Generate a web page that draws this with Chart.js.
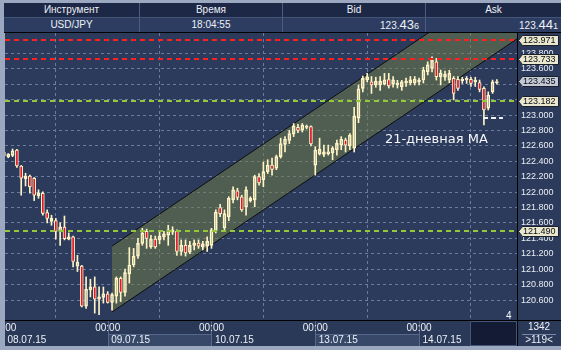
<!DOCTYPE html>
<html>
<head>
<meta charset="utf-8">
<script src="https://cdn.jsdelivr.net/npm/chart.js@4.4.1/dist/chart.umd.min.js"></script>
<style>
html, body { margin: 0; padding: 0; width: 561px; height: 350px; overflow: hidden; background: #9ca8c0; font-family: "Liberation Sans", Arial, sans-serif; }
#hdr { position: absolute; left: 4px; top: 3px; width: 557px; height: 29px; }
.row { position: absolute; left: 0; width: 557px; height: 14px; display: flex; }
#r1 { top: 0; background: #1c2845; }
#r2 { top: 15px; height: 14px; background: #2d3d61; }
#sep { position: absolute; left: 0; top: 14px; width: 557px; height: 1px; background: #44557a; }
.c { box-sizing: border-box; color: #eef1f7; font-size: 10px; line-height: 14px; border-right: 1px solid #4d5d82; text-align: center; white-space: nowrap; }
.r { text-align: right; }
.big { font-size: 13px; }
.sm { font-size: 9px; }
#topline { position: absolute; left: 4px; top: 32px; width: 557px; height: 1px; background: #000; }
#wrap { position: absolute; left: 5px; top: 33px; width: 556px; height: 313px; background: #2c3a5b; }
</style>
</head>
<body>
<div id="hdr">
  <div class="row" id="r1">
    <div class="c" style="width:136px">Инструмент</div>
    <div class="c" style="width:143px">Время</div>
    <div class="c" style="width:143px">Bid</div>
    <div class="c" style="width:135px;border-right:none">Ask</div>
  </div>
  <div id="sep"></div>
  <div class="row" id="r2">
    <div class="c" style="width:136px">USD/JPY</div>
    <div class="c" style="width:143px">18:04:55</div>
    <div class="c r" style="width:143px;padding-right:6px">123.<span class="big">43</span><span class="sm">6</span></div>
    <div class="c r" style="width:135px;padding-right:3px;border-right:none">123.<span class="big">44</span><span class="sm">1</span></div>
  </div>
</div>
<div id="topline"></div>
<div id="wrap"><canvas id="c" width="556" height="313"></canvas></div>
<script>
// hourly USD/JPY candles, 08.07.15 00:00 .. 14.07.15 18:00
const opens = [
  122.470,122.455,122.477,122.546,122.339,122.174,122.209,122.180,121.953,121.985,
  121.733,121.620,121.630,121.490,121.545,121.390,121.420,121.040,121.040,120.520,
  120.730,120.770,120.610,120.635,120.680,120.570,120.650,120.880,120.700,120.940,
  121.055,121.170,121.336,121.490,121.290,121.390,121.380,121.420,121.440,121.480,
  121.490,121.230,121.310,121.220,121.310,121.340,121.290,121.300,121.310,121.495,
  121.800,121.535,121.680,121.900,122.015,121.940,121.810,121.890,121.900,122.200,
  122.160,122.265,122.350,122.310,122.460,122.620,122.670,122.755,122.840,122.805,
  122.840,122.850,122.350,122.494,122.490,122.500,122.510,122.546,122.610,122.676,
  122.600,122.570,122.960,123.345,123.454,123.430,123.390,123.390,123.400,123.460,
  123.400,123.390,123.367,123.415,123.415,123.415,123.428,123.454,123.560,123.605,
  123.690,123.497,123.490,123.454,123.476,123.463,123.445,123.454,123.463,123.428,
  123.420,123.346,123.090,123.300,123.420
];
const highs = [
  122.560,122.500,122.560,122.555,122.345,122.245,122.220,122.190,122.030,122.005,
  121.770,121.700,121.660,121.600,121.690,121.470,121.430,121.180,121.050,120.900,
  120.870,120.900,120.770,120.770,120.710,120.690,120.900,120.900,121.000,121.280,
  121.270,121.400,121.530,121.520,121.440,121.430,121.490,121.490,121.570,121.550,
  121.510,121.380,121.380,121.360,121.380,121.380,121.360,121.420,121.530,121.770,
  121.840,121.770,121.940,122.070,122.050,121.960,122.070,121.940,122.220,122.240,
  122.390,122.420,122.440,122.480,122.700,122.720,122.800,122.890,122.880,122.890,
  122.870,122.860,122.590,122.700,122.610,122.610,122.590,122.675,122.720,122.700,
  122.760,123.100,123.390,123.505,123.540,123.500,123.490,123.500,123.540,123.540,
  123.500,123.450,123.450,123.480,123.500,123.500,123.480,123.620,123.690,123.756,
  123.735,123.584,123.570,123.580,123.500,123.500,123.490,123.500,123.490,123.490,
  123.454,123.367,123.300,123.454,123.460
];
const lows = [
  122.450,122.445,122.460,122.320,121.960,122.080,121.985,121.890,121.920,121.700,
  121.600,121.570,121.390,121.310,121.380,121.380,121.030,120.970,120.510,120.490,
  120.640,120.430,120.410,120.560,120.560,120.470,120.560,120.580,120.650,120.820,
  121.030,121.140,121.310,121.270,121.270,121.270,121.330,121.380,121.310,121.450,
  121.180,121.180,121.170,121.200,121.250,121.270,121.250,121.230,121.270,121.470,
  121.680,121.490,121.630,121.860,121.900,121.750,121.700,121.870,121.810,122.090,
  122.070,122.240,122.220,122.290,122.440,122.520,122.630,122.720,122.770,122.780,
  122.820,122.600,122.220,122.480,122.460,122.480,122.420,122.480,122.550,122.520,
  122.550,122.520,122.900,123.300,123.430,123.280,123.360,123.320,123.390,123.350,
  123.360,123.350,123.320,123.370,123.390,123.390,123.390,123.415,123.520,123.560,
  123.454,123.390,123.450,123.420,123.195,123.320,123.410,123.410,123.370,123.370,
  123.300,122.870,123.065,123.280,123.400
];
const closes = [
  122.520,122.494,122.537,122.339,122.180,122.209,122.070,121.960,121.992,121.725,
  121.660,121.660,121.490,121.550,121.395,121.420,121.100,121.090,120.520,120.740,
  120.770,120.610,120.640,120.680,120.570,120.670,120.880,120.700,120.955,121.055,
  121.170,121.336,121.470,121.400,121.390,121.290,121.430,121.460,121.510,121.510,
  121.230,121.310,121.210,121.310,121.340,121.300,121.330,121.360,121.510,121.740,
  121.720,121.720,121.920,122.030,121.930,121.770,122.030,121.920,122.200,122.120,
  122.265,122.350,122.295,122.460,122.630,122.685,122.760,122.860,122.800,122.870,
  122.857,122.625,122.546,122.555,122.524,122.524,122.570,122.633,122.685,122.610,
  122.740,122.985,123.340,123.475,123.497,123.390,123.440,123.440,123.455,123.376,
  123.455,123.415,123.430,123.440,123.455,123.467,123.454,123.584,123.650,123.713,
  123.497,123.545,123.530,123.540,123.280,123.346,123.463,123.476,123.410,123.454,
  123.333,123.065,123.260,123.430,123.435
];

const dayStarts = [0, 24, 48, 72, 96];
const dayLabels = ['08.07.15', '09.07.15', '10.07.15', '13.07.15', '14.07.15'];
const priceTicks = [120.6, 120.8, 121.0, 121.2, 121.4, 121.6, 121.8, 122.0, 122.2, 122.4, 122.6, 122.8, 123.0, 123.2, 123.4, 123.6, 123.8];

// trend channel (candle index -> price)
const channelX = [25, 118.65];
const channelUpper = [121.30, 124.84];
const channelLower = [120.445, 123.987];

// 21-day MA stub
const maX = [110.8, 115.4];
const maY = [122.96, 122.96];
const maLabel = { x: 88.1, y: 122.68, text: '21-дневная MA' };

const levelValues = [123.971, 123.733, 123.182, 121.490];
const levelColors = ['#ff2020', '#ff2020', '#93c83a', '#93c83a'];
const currentPrice = 123.435;

const CREAM = '#fff4c6';
const RED = '#e3152d';
const SMALL = "9px 'Liberation Sans', Arial, sans-serif";

const bodies = opens.map((o, i) => ({ x: i, y: [o, closes[i]] }));
const wickUp = opens.map((o, i) => ({ x: i, y: [Math.max(o, closes[i]), highs[i]] }));
const wickDn = opens.map((o, i) => ({ x: i, y: [lows[i], Math.min(o, closes[i])] }));
const bodyFill = opens.map((o, i) => (closes[i] >= o ? 'rgba(0,0,0,0)' : RED));

const decor = {
  id: 'decor',
  beforeDraw(chart) {
    const { ctx, chartArea: a, width, height } = chart;
    ctx.save();
    ctx.fillStyle = '#2b3959';
    ctx.fillRect(0, a.bottom, width, height - a.bottom);
    ctx.restore();
  },
  afterDatasetsDraw(chart) {
    const { ctx, chartArea: a, scales: { x, y } } = chart;
    ctx.save();
    ctx.beginPath();
    ctx.rect(a.left, a.top, a.width, a.height);
    ctx.clip();
    ctx.lineWidth = 2;
    ctx.setLineDash([5, 4]);
    levelValues.forEach((v, k) => {
      const py = Math.round(y.getPixelForValue(v));
      ctx.strokeStyle = levelColors[k];
      ctx.beginPath();
      ctx.moveTo(a.left, py);
      ctx.lineTo(a.right, py);
      ctx.stroke();
    });
    ctx.setLineDash([]);
    ctx.fillStyle = '#f4f6fb';
    ctx.font = "13px 'DejaVu Sans', sans-serif";
    ctx.textBaseline = 'middle';
    ctx.textAlign = 'left';
    ctx.fillText(maLabel.text, x.getPixelForValue(maLabel.x), y.getPixelForValue(maLabel.y));
    ctx.font = "10px 'Liberation Sans', Arial, sans-serif";
    ctx.fillText('4', a.right - 11, a.bottom - 4);
    ctx.restore();
  },
  afterDraw(chart) {
    const { ctx, chartArea: a, scales: { x, y }, width, height } = chart;
    ctx.save();

    // price tags on the right axis
    const tagVals = levelValues.concat([currentPrice]);
    ctx.font = SMALL;
    ctx.textBaseline = 'middle';
    ctx.textAlign = 'left';
    tagVals.forEach((v) => {
      const py = Math.round(y.getPixelForValue(v)) + 0.5;
      const x0 = a.right + 1.5, x1 = a.right + 5.5, x2 = a.right + 41.5;
      ctx.beginPath();
      ctx.moveTo(x0, py);
      ctx.lineTo(x1, py - 5);
      ctx.lineTo(x2, py - 5);
      ctx.lineTo(x2, py + 5);
      ctx.lineTo(x1, py + 5);
      ctx.closePath();
      ctx.fillStyle = v === currentPrice ? '#c4c9d6' : '#e9e7cd';
      ctx.fill();
      ctx.strokeStyle = '#1a1f2a';
      ctx.lineWidth = 1;
      ctx.stroke();
      ctx.fillStyle = '#0b0d12';
      ctx.fillText(v.toFixed(3), x1 + 0.5, py + 0.5);
    });

    // bottom time axis
    const top = a.bottom;
    ctx.fillStyle = '#000';
    ctx.fillRect(0, top, width, 1);
    const px = dayStarts.map((d) => x.getPixelForValue(d));
    const boxEnd = a.right - 47;
    px.forEach((p, k) => {
      const next = k + 1 < px.length ? px[k + 1] : boxEnd;
      if (k % 2 === 1) {
        ctx.fillStyle = '#384869';
        ctx.fillRect(Math.round(p), top + 14, Math.round(next - p), height - top - 14);
        ctx.fillStyle = '#56678c';
        ctx.fillRect(Math.round(p), top + 14, Math.round(next - p), 1);
      }
    });
    ctx.fillStyle = '#56678c';
    px.forEach((p) => ctx.fillRect(Math.round(p), top + 1, 1, height - top));
    ctx.fillStyle = '#ecf0f6';
    ctx.font = "10px 'Liberation Sans', Arial, sans-serif";
    px.forEach((p, k) => {
      ctx.textAlign = 'center';
      ctx.fillText('00:00', p, top + 8);
      ctx.textAlign = 'left';
      ctx.fillText(dayLabels[k], p + 3.5, top + 20);
    });
    ctx.fillStyle = '#141c35';
    ctx.fillRect(boxEnd, top + 1, a.right - boxEnd, height - top);
    ctx.strokeStyle = '#46557a';
    ctx.strokeRect(boxEnd + 0.5, top + 1.5, a.right - boxEnd - 1, height - top - 2);

    // right column footer
    ctx.fillStyle = '#000';
    ctx.fillRect(a.right, a.top, 1, height - a.top);
    ctx.fillStyle = '#ecf0f6';
    ctx.textAlign = 'center';
    ctx.fillText('1342', a.right + 22, top + 7);
    ctx.fillText('>119<', a.right + 22, top + 20);
    ctx.fillStyle = '#7a88a8';
    ctx.fillRect(a.right + 5, top + 14, 34, 1);
    ctx.restore();
  }
};

Chart.defaults.font.family = "'Liberation Sans', Arial, sans-serif";

new Chart(document.getElementById('c'), {
  type: 'bar',
  data: {
    datasets: [
      {
        type: 'line',
        data: channelX.map((v, i) => ({ x: v, y: channelUpper[i] })),
        borderColor: '#0d0f10',
        borderWidth: 1,
        pointRadius: 0,
        fill: '+1',
        backgroundColor: 'rgba(112,124,72,0.55)',
        order: 10
      },
      {
        type: 'line',
        data: channelX.map((v, i) => ({ x: v, y: channelLower[i] })),
        borderColor: '#0d0f10',
        borderWidth: 1,
        pointRadius: 0,
        fill: false,
        order: 9
      },
      {
        type: 'line',
        data: maX.map((v, i) => ({ x: v, y: maY[i] })),
        borderColor: '#f2f2f2',
        borderWidth: 2,
        borderDash: [5, 3],
        pointRadius: 0,
        fill: false,
        order: 0
      },
      { data: wickUp, backgroundColor: CREAM, borderWidth: 0, barThickness: 1, grouped: false, order: 3 },
      { data: wickDn, backgroundColor: CREAM, borderWidth: 0, barThickness: 1, grouped: false, order: 3 },
      {
        data: bodies,
        backgroundColor: bodyFill,
        borderColor: CREAM,
        borderWidth: 1,
        borderSkipped: false,
        barThickness: 3,
        grouped: false,
        order: 1
      }
    ]
  },
  options: {
    responsive: false,
    animation: false,
    devicePixelRatio: 1,
    layout: { padding: { left: 0, right: 0, top: 0, bottom: 26 } },
    plugins: { legend: { display: false }, tooltip: { enabled: false } },
    scales: {
      x: {
        type: 'linear',
        min: 0.25,
        max: 118.65,
        offset: false,
        afterBuildTicks: (s) => { s.ticks = dayStarts.filter((d) => d > s.min).map((d) => ({ value: d })); },
        ticks: { display: false },
        grid: { color: '#6b7ba0', drawTicks: false },
        border: { display: false, dash: [3, 3] }
      },
      y: {
        position: 'right',
        min: 120.341,
        max: 124.064,
        afterFit: (s) => { s.width = 44; s.paddingTop = 0; s.paddingBottom = 0; },
        afterBuildTicks: (s) => { s.ticks = priceTicks.map((v) => ({ value: v })); },
        ticks: {
          padding: 4,
          color: '#eaeef5',
          font: { size: 9 },
          callback: (v) => Number(v).toFixed(3)
        },
        grid: { color: '#6b7ba0', drawTicks: false },
        border: { display: true, color: '#000', width: 1, dash: [3, 3] }
      }
    }
  },
  plugins: [decor]
});
</script>
</body>
</html>
